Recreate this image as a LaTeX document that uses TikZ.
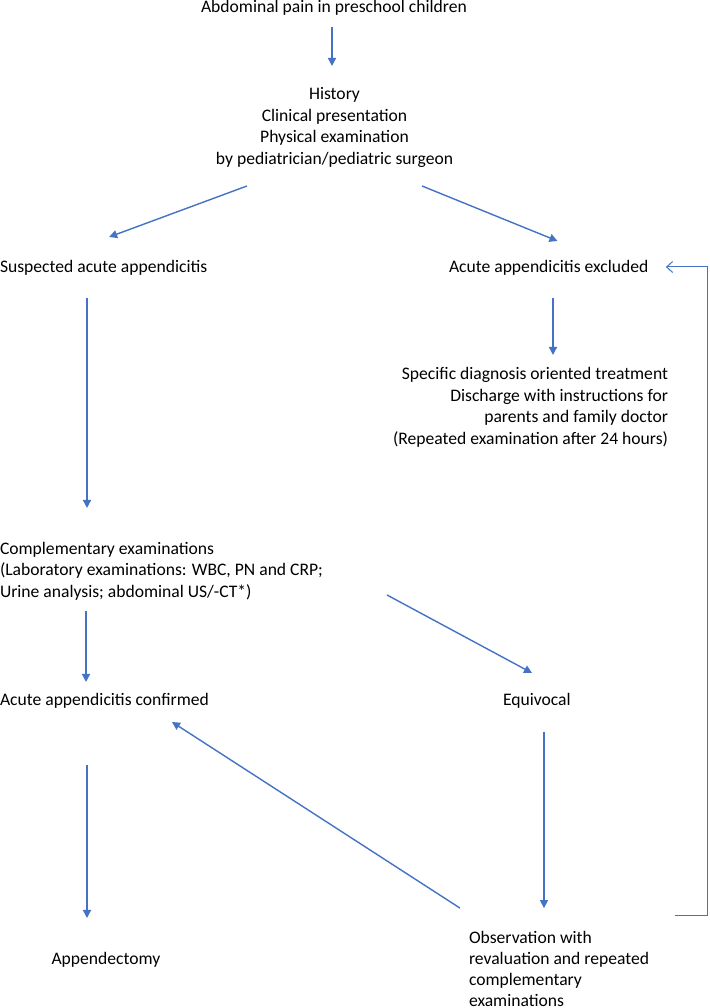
\documentclass[tikz,border=0pt]{standalone}
\usepackage{fontspec}
\setmainfont{Carlito}
\usetikzlibrary{arrows.meta}
\definecolor{flowblue}{HTML}{4472C4}
\begin{document}
\begin{tikzpicture}[x=1pt,y=-1pt,
  lbl/.style={inner sep=0pt, outer sep=0pt, text=black, font=\fontsize{17.6pt}{21.6pt}\selectfont},
  obslbl/.style={inner sep=0pt, outer sep=0pt, text=black, font=\fontsize{17.6pt}{21.3pt}\selectfont},
  arr/.style={draw=flowblue, line width=1.4pt, -{Triangle[length=8pt,width=8pt]}},
  loopline/.style={draw=flowblue, line width=1pt, -{Straight Barb[length=6pt,width=11pt]}}]
\useasboundingbox[fill=white] (0,0) rectangle (709,1008);

\node[lbl, anchor=base] (title) at (334,13)
  {\begin{tabular}[t]{@{}c@{}}Abdominal pain in preschool children\end{tabular}};
\node[lbl, anchor=base] (hist) at (334.5,99.6)
  {\begin{tabular}[t]{@{}c@{}}History\\Clinical presentation\\Physical examination\\by pediatrician/pediatric surgeon\end{tabular}};
\node[lbl, anchor=base west] (susp) at (0,272)
  {\begin{tabular}[t]{@{}l@{}}Suspected acute appendicitis\end{tabular}};
\node[lbl, anchor=base west] (excl) at (449,272)
  {\begin{tabular}[t]{@{}l@{}}Acute appendicitis excluded\end{tabular}};
\node[lbl, anchor=base east] (spec) at (668,379.6)
  {\begin{tabular}[t]{@{}r@{}}Specific diagnosis oriented treatment\\Discharge with instructions for\\parents and family doctor\\(Repeated examination after 24 hours)\end{tabular}};
\node[lbl, anchor=base west] (comp) at (0,554)
  {\begin{tabular}[t]{@{}l@{}}Complementary examinations\\(Laboratory examinations: WBC, PN and CRP;\\Urine analysis; abdominal US/-CT*)\end{tabular}};
\node[lbl, anchor=base west] (conf) at (0,705.5)
  {\begin{tabular}[t]{@{}l@{}}Acute appendicitis confirmed\end{tabular}};
\node[lbl, anchor=base west] (equiv) at (503,705.5)
  {\begin{tabular}[t]{@{}l@{}}Equivocal\end{tabular}};
\node[lbl, anchor=base west] (appe) at (51.5,964.6)
  {\begin{tabular}[t]{@{}l@{}}Appendectomy\end{tabular}};
\node[obslbl, anchor=base west] (obs) at (469,943)
  {\begin{tabular}[t]{@{}l@{}}Observation with\\revaluation and repeated\\complementary\\examinations\end{tabular}};

% connectors
\draw[arr] ([shift={(-2,7.5)}]title.south) -- ([shift={(-2.5,-18.5)}]hist.north);
\draw[arr] ([shift={(-87.5,15.1)}]hist.south) -- ([shift={(5.5,-19.9)}]susp.north);
\draw[arr] ([shift={(87.5,15.1)}]hist.south) -- ([shift={(8.75,-15.9)}]excl.north);
\draw[arr] ([shift={(87,19.5)}]susp.south west) -- ([shift={(87,-30.9)}]comp.north west);
\draw[arr] ([shift={(104,19.5)}]excl.south west) -- ([shift={(-115,-9.5)}]spec.north east);
\draw[arr] ([shift={(86,7.3)}]comp.south west) -- ([shift={(86,-8.4)}]conf.north west);
\draw[arr] ([shift={(387,-8.7)}]comp.south west) -- ([shift={(29,-17.4)}]equiv.north west);
\draw[arr] ([shift={(87,53)}]conf.south west) -- ([shift={(35.5,-31.5)}]appe.north west);
\draw[arr] ([shift={(41,20)}]equiv.south west) -- ([shift={(75,-20)}]obs.north west);
\draw[arr] ([shift={(-9,-20)}]obs.north west) -- ([shift={(172,10)}]conf.south west);
\draw[loopline] ([shift={(206,-13)}]obs.north west) -- ++(32,0) |- ([shift={(17.5,-0.7)}]excl.east);
\end{tikzpicture}
\end{document}
